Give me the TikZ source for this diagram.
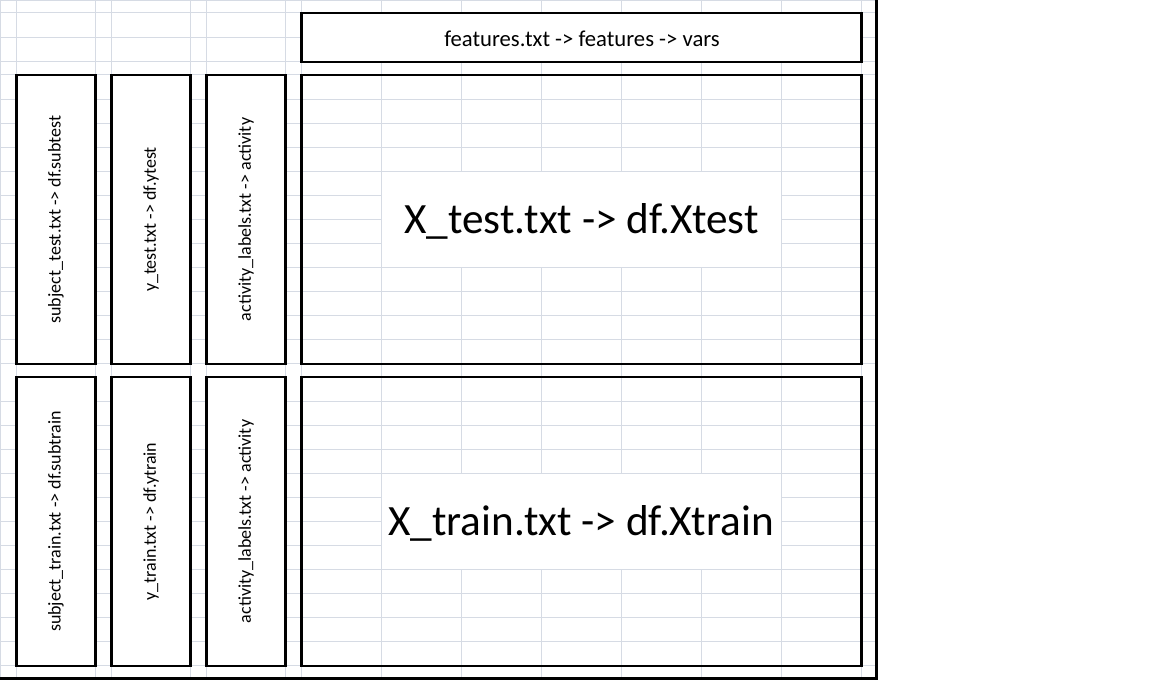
\documentclass[tikz,border=0pt]{standalone}
\usepackage{fontspec}
\setmainfont{Carlito}
\definecolor{gridc}{RGB}{214,219,228}
\begin{document}
\begin{tikzpicture}[x=0.75pt,y=-0.75pt,
  box/.style={draw=black,line width=1.9pt,inner sep=0pt,fill=white},
  bigbox/.style={draw=black,line width=1.9pt,inner sep=0pt,minimum width=420pt,minimum height=216.75pt},
  thinbox/.style={box,rotate=90,minimum width=216.75pt,minimum height=59.25pt,font=\fontsize{13.5}{16}\selectfont},
  gridline/.style={draw=gridc,line width=0.75pt},
  bigtext/.style={inner sep=0pt,anchor=base,font=\fontsize{32.4}{38}\selectfont},
  border/.style={draw=black,line width=2.2pt}]
\useasboundingbox (0,0) rectangle (1152,680);
\fill[white] (0,0) rectangle (1152,680);
% spreadsheet grid
\foreach \x in {0.5,16.3,95.7,111.3,190.7,206.3,285.7,301.5,381.7,461.7,541.7,621.7,701.7,781.7,861.7}
  \draw[gridline] (\x,0) -- (\x,679);
\foreach \y in {0.5,13,37.3,62,75}
  \draw[gridline] (0,\y) -- (877,\y);
\foreach \k in {1,...,12} {
  \draw[gridline] (0,{75+24.08*\k}) -- (877,{75+24.08*\k});
  \draw[gridline] (0,{377+24.08*\k}) -- (877,{377+24.08*\k});
}
% white cells behind the big texts
\fill[white] (382.2,171.8) rectangle (781.2,267.1);
\fill[white] (382.2,473.8) rectangle (781.2,569.1);
% outer border
\coordinate (tr) at (876.8,0);
\coordinate (br) at (876.8,678.8);
\coordinate (bl) at (0,678.8);
\draw[border] (tr) -- (br) -- (bl);
% boxes
\node[box,minimum width=420pt,minimum height=36.75pt] (feat) at (581.5,37.5) {};
\node[inner sep=0pt,anchor=base,font=\fontsize{17}{20}\selectfont] (featt) at (582,46.5) {features.txt -> features -> vars};

\node[thinbox] (subtest) at (56,219.5) {subject\_test.txt -> df.subtest};
\node[thinbox] (ytest) at (151,219.5) {y\_test.txt -> df.ytest};
\node[thinbox] (acttest) at (246,219.5) {activity\_labels.txt -> activity};
\node[bigbox] (xtest) at (581.5,219.5) {};
\node[bigtext] (xtestt) at (581.5,233.3) {X\_test.txt -> df.Xtest};

\node[thinbox] (subtrain) at (56,521.5) {subject\_train.txt -> df.subtrain};
\node[thinbox] (ytrain) at (151,521.5) {y\_train.txt -> df.ytrain};
\node[thinbox] (acttrain) at (246,521.5) {activity\_labels.txt -> activity};
\node[bigbox] (xtrain) at (581.5,521.5) {};
\node[bigtext] (xtraint) at (581,535) {X\_train.txt -> df.Xtrain};
\end{tikzpicture}
\end{document}
